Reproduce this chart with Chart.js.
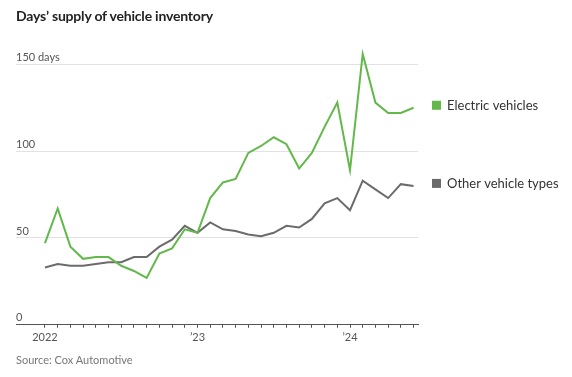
<!DOCTYPE html>
<html>
<head>
<meta charset="utf-8">
<script src="https://cdn.jsdelivr.net/npm/chart.js@4"></script>
<style>
  html, body { margin: 0; padding: 0; background: #fff; }
  #wrap { position: relative; width: 572px; height: 377px; font-family: Lato, "Noto Sans", sans-serif; }
  #title { position: absolute; left: 16px; top: 7px; font-size: 14px; font-weight: bold; color: #222; letter-spacing: -0.2px; }
  #source { position: absolute; left: 16px; top: 353px; font-size: 11px; color: #777; }
</style>
</head>
<body>
<div id="wrap">
  <canvas id="chart" width="572" height="377"></canvas>
  <div id="title">Days’ supply of vehicle inventory</div>
  <div id="source">Source: Cox Automotive</div>
</div>
<script>
// monthly, Jan 2022 - Jun 2024
const months = [
  'Jan 22', 'Feb 22', 'Mar 22', 'Apr 22', 'May 22', 'Jun 22', 'Jul 22', 'Aug 22', 'Sep 22', 'Oct 22', 'Nov 22', 'Dec 22',
  'Jan 23', 'Feb 23', 'Mar 23', 'Apr 23', 'May 23', 'Jun 23', 'Jul 23', 'Aug 23', 'Sep 23', 'Oct 23', 'Nov 23', 'Dec 23',
  'Jan 24', 'Feb 24', 'Mar 24', 'Apr 24', 'May 24', 'Jun 24'
];
const electric = [47, 67, 45, 38, 39, 39, 34, 31, 27, 41, 44, 55, 53, 73, 82, 84, 99, 103, 108, 104, 90, 99, 114, 128, 89, 156, 128, 122, 122, 125];
const other = [33, 35, 34, 34, 35, 36, 36, 39, 39, 45, 49, 57, 53, 59, 55, 54, 52, 51, 53, 57, 56, 61, 70, 73, 66, 83, 78, 73, 81, 80];
const yTicks = [0, 50, 100, 150];
const xTickLabels = { 0: '2022', 12: '’23', 24: '’24' };
const seriesNames = ['Electric vehicles', 'Other vehicle types'];
const seriesColors = ['#62b84a', '#6b6b6b'];

const FONT = 'Lato, "Noto Sans", sans-serif';

// labels at the end of each line, instead of the normal legend
const endLabels = {
    id: 'endLabels',
    afterDatasetsDraw(chart) {
        const ctx = chart.ctx;
        ctx.save();
        ctx.font = '13px ' + FONT;
        ctx.textBaseline = 'middle';
        chart.data.datasets.forEach((ds, i) => {
            const pts = chart.getDatasetMeta(i).data;
            const y = pts[pts.length - 1].y - 2;
            ctx.fillStyle = ds.borderColor;
            ctx.fillRect(432, y - 5, 9, 9);
            ctx.fillStyle = '#333';
            ctx.fillText(ds.label, 447, y);
        });
        ctx.restore();
    }
};

const ctx = document.getElementById('chart').getContext('2d');
const chart = new Chart(ctx, {
    type: 'line',
    data: {
        datasets: [
            {
                label: seriesNames[0],
                data: electric.map((v, i) => ({ x: i, y: v })),
                borderColor: seriesColors[0],
                borderWidth: 2,
                pointRadius: 0,
                tension: 0,
            },
            {
                label: seriesNames[1],
                data: other.map((v, i) => ({ x: i, y: v })),
                borderColor: seriesColors[1],
                borderWidth: 2,
                pointRadius: 0,
                tension: 0,
            },
        ],
    },
    options: {
        responsive: false,
        animation: false,
        layout: { padding: { left: 16, right: 154, top: 47, bottom: 30 } },
        plugins: {
            legend: { display: false },
            tooltip: { enabled: false },
        },
        scales: {
            x: {
                type: 'linear',
                min: -2.28,
                max: 29.35,
                afterBuildTicks: (scale) => { scale.ticks = months.map((m, i) => ({ value: i })); },
                grid: {
                    drawOnChartArea: false,
                    tickLength: 3,
                    tickColor: '#555',
                },
                border: { color: '#555', width: 1 },
                ticks: {
                    autoSkip: false,
                    maxRotation: 0,
                    padding: 3,
                    color: '#555',
                    font: { family: FONT, size: 11 },
                    callback: (value) => xTickLabels[value] || '',
                },
            },
            y: {
                min: 0,
                max: 160,
                afterBuildTicks: (scale) => { scale.ticks = yTicks.map(v => ({ value: v })); },
                grid: {
                    drawTicks: false,
                    color: '#e2e2e2',
                },
                border: { display: false },
                ticks: {
                    mirror: true,
                    padding: 0,
                    labelOffset: -7,
                    color: '#555',
                    font: { family: FONT, size: 11 },
                    callback: (value) => value === 150 ? '150 days' : String(value),
                },
            },
        },
    },
    plugins: [endLabels],
});
</script>
</body>
</html>
